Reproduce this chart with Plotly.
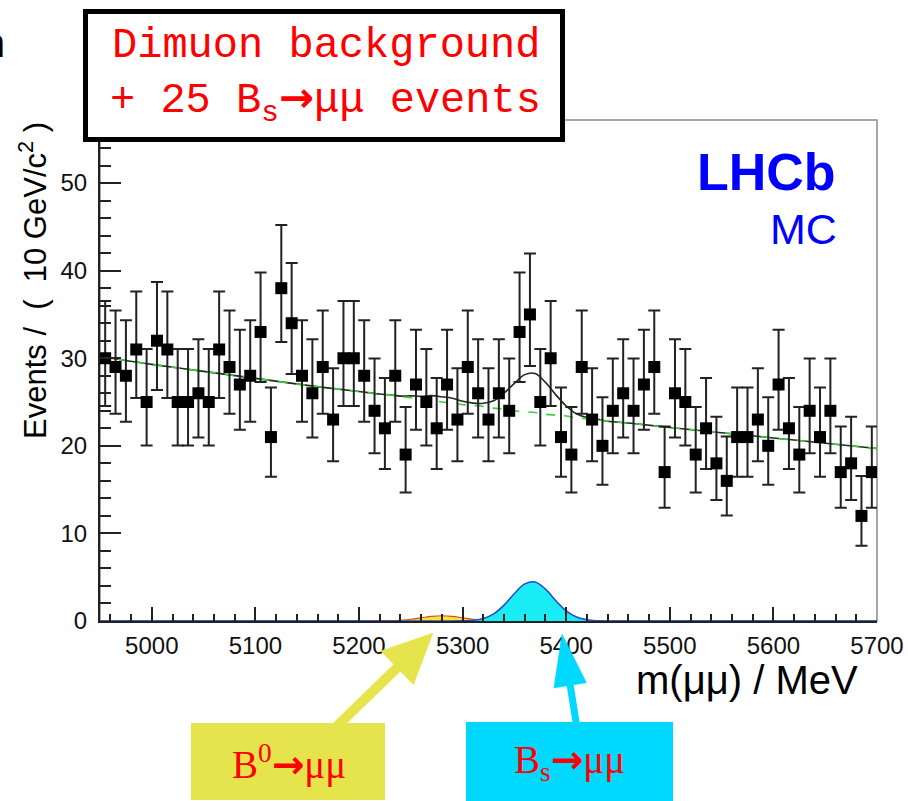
import numpy as np
import plotly.graph_objects as go

# ---------------- data ----------------
bin_centres = [4955, 4965, 4975, 4985, 4995, 5005, 5015, 5025, 5035, 5045,
               5055, 5065, 5075, 5085, 5095, 5105, 5115, 5125, 5135, 5145,
               5155, 5165, 5175, 5185, 5195, 5205, 5215, 5225, 5235, 5245,
               5255, 5265, 5275, 5285, 5295, 5305, 5315, 5325, 5335, 5345,
               5355, 5365, 5375, 5385, 5395, 5405, 5415, 5425, 5435, 5445,
               5455, 5465, 5475, 5485, 5495, 5505, 5515, 5525, 5535, 5545,
               5555, 5565, 5575, 5585, 5595, 5605, 5615, 5625, 5635, 5645,
               5655, 5665, 5675, 5685, 5695]
events = [30, 29, 28, 31, 25, 32, 31, 25, 25, 26,
          25, 31, 29, 27, 28, 33, 21, 38, 34, 28,
          26, 29, 23, 30, 30, 28, 24, 22, 28, 19,
          27, 25, 22, 27, 23, 29, 26, 23, 26, 24,
          33, 35, 25, 30, 21, 19, 29, 23, 20, 24,
          26, 24, 27, 29, 17, 26, 25, 19, 22, 18,
          16, 21, 21, 23, 20, 27, 22, 19, 24, 21,
          24, 17, 18, 12, 17]

curve_mass = [4950, 5000, 5050, 5100, 5150, 5200, 5220, 5230, 5240, 5250,
              5260, 5270, 5280, 5290, 5300, 5310, 5320, 5330, 5340, 5350,
              5360, 5370, 5380, 5390, 5400, 5410, 5420, 5430, 5440, 5460,
              5500, 5550, 5600, 5650, 5700]
background_curve = [30.2, 29.3, 28.5, 27.7, 26.9, 26.2, 25.9, 25.8, 25.6, 25.5,
                    25.3, 25.2, 25.0, 24.9, 24.7, 24.6, 24.5, 24.3, 24.2, 24.0,
                    23.9, 23.8, 23.6, 23.5, 23.4, 23.2, 23.1, 23.0, 22.8, 22.6,
                    22.1, 21.5, 20.9, 20.3, 19.7]
b0_curve = [0, 0, 0, 0, 0, 0, 0.01, 0.03, 0.08, 0.2,
            0.36, 0.53, 0.6, 0.53, 0.36, 0.2, 0.08, 0.03, 0.01, 0,
            0, 0, 0, 0, 0, 0, 0, 0, 0, 0,
            0, 0, 0, 0, 0]
bs_curve = [0, 0, 0, 0, 0, 0, 0, 0, 0, 0,
            0, 0, 0, 0, 0.02, 0.08, 0.28, 0.81, 1.81, 3.13,
            4.23, 4.45, 3.64, 2.32, 1.15, 0.45, 0.13, 0.03, 0.01, 0,
            0, 0, 0, 0, 0]

x_tick_values = [5000, 5100, 5200, 5300, 5400, 5500, 5600, 5700]
y_tick_values = [0, 10, 20, 30, 40, 50]

# ---------------- derived quantities ----------------
n = np.array(events, dtype=float)
# Poisson 68% interval (Wilson-Hilferty approximation of the Garwood interval)
lo = np.where(n > 0, n * (1 - 1 / (9 * n) - 1 / (3 * np.sqrt(n))) ** 3, 0.0)
hi = (n + 1) * (1 - 1 / (9 * (n + 1)) + 1 / (3 * np.sqrt(n + 1))) ** 3
err_plus = hi - n
err_minus = n - lo

total_curve = [b + s + z for b, s, z in zip(background_curve, bs_curve, b0_curve)]

# ---------------- figure ----------------
W, H = 908, 801
L, R, T, B = 100, 31, 120, 180
PW, PH = W - L - R, H - T - B


def px(xp):
    return (xp - L) / PW


def py(yp):
    return (H - B - yp) / PH


fig = go.Figure()

fig.add_trace(go.Scatter(x=curve_mass, y=b0_curve, mode="lines",
                         line=dict(color="#e04a1a", width=1.2, shape="spline"),
                         fill="tozeroy", fillcolor="#f2e63a", hoverinfo="skip",
                         showlegend=False))
fig.add_trace(go.Scatter(x=curve_mass, y=bs_curve, mode="lines",
                         line=dict(color="#1f4fc8", width=1.5, shape="spline"),
                         fill="tozeroy", fillcolor="#19ecf4", hoverinfo="skip",
                         showlegend=False))
fig.add_trace(go.Scatter(x=curve_mass, y=total_curve, mode="lines",
                         line=dict(color="#1a2e1a", width=1.6, shape="spline"),
                         hoverinfo="skip", showlegend=False))
fig.add_trace(go.Scatter(x=curve_mass, y=background_curve, mode="lines",
                         line=dict(color="#3fcf3f", width=1.6, dash="dash", shape="spline"),
                         hoverinfo="skip", showlegend=False))
fig.add_trace(go.Scatter(x=bin_centres, y=events, mode="markers",
                         marker=dict(symbol="square", size=12, color="black"),
                         error_y=dict(type="data", symmetric=False,
                                      array=err_plus, arrayminus=err_minus,
                                      color="#222222", thickness=2, width=6),
                         showlegend=False))

shapes = []
shapes.append(dict(type="rect", xref="paper", yref="paper", x0=0, x1=1, y0=0, y1=1,
                   line=dict(color="#8a8a8a", width=1.5), layer="below"))


def arrow(tip, tail, head_len, head_half, shaft_w, color):
    tx, ty = tip
    sx, sy = tail
    dx, dy = tx - sx, ty - sy
    ln = (dx * dx + dy * dy) ** 0.5
    ux, uy = dx / ln, dy / ln
    bx, by = tx - head_len * ux, ty - head_len * uy
    nx, ny = -uy, ux
    c1 = (bx + head_half * nx, by + head_half * ny)
    c2 = (bx - head_half * nx, by - head_half * ny)
    return [dict(type="line", xref="paper", yref="paper",
                 x0=px(sx), y0=py(sy), x1=px(bx + 2 * ux), y1=py(by + 2 * uy),
                 line=dict(color=color, width=shaft_w)),
            dict(type="path", xref="paper", yref="paper",
                 path="M {} {} L {} {} L {} {} Z".format(px(tx), py(ty), px(c1[0]), py(c1[1]),
                                                       px(c2[0]), py(c2[1])),
                 fillcolor=color, line=dict(color=color, width=0.5))]


yellow = "#e6e44c"
cyan = "#00d9ff"
shapes += arrow((433, 633), (335, 728), 50, 23.5, 10, yellow)
shapes += arrow((562, 634), (577, 728), 52, 16.5, 7, cyan)

shapes.append(dict(type="rect", xref="paper", yref="paper",
                   x0=px(191), x1=px(385), y0=py(800), y1=py(723),
                   fillcolor=yellow, line=dict(width=0)))
shapes.append(dict(type="rect", xref="paper", yref="paper",
                   x0=px(466), x1=px(673), y0=py(801), y1=py(722),
                   fillcolor=cyan, line=dict(width=0)))
shapes.append(dict(type="rect", xref="paper", yref="paper",
                   x0=px(85.5), x1=px(562.5), y0=py(139.5), y1=py(11.5),
                   fillcolor="white", line=dict(color="black", width=5)))

ARROW = "<span style='font-family:DejaVu Sans'><b>→</b></span>"

annotations = []
mono = "Liberation Mono, Courier New, monospace"
annotations.append(dict(x=px(325.5), y=py(46), xref="paper", yref="paper",
                        text="Dimuon background", showarrow=False,
                        font=dict(family=mono, size=42, color="#ff0000"),
                        xanchor="center", yanchor="middle"))
annotations.append(dict(x=px(325.5), y=py(101), xref="paper", yref="paper",
                        text="+ 25 B<sub>s</sub>" + ARROW + "μμ events", showarrow=False,
                        font=dict(family=mono, size=42, color="#ff0000"),
                        xanchor="center", yanchor="middle"))
annotations.append(dict(x=px(8), y=py(46), xref="paper", yref="paper",
                        text="n", showarrow=False,
                        font=dict(family=mono, size=40, color="black"),
                        xanchor="right", yanchor="middle"))
annotations.append(dict(x=px(838), y=py(172), xref="paper", yref="paper",
                        text="<b>LHCb</b>", showarrow=False,
                        font=dict(family="Liberation Sans, Arial", size=52, color="#0000ff"),
                        xanchor="right", yanchor="middle"))
annotations.append(dict(x=px(839), y=py(229), xref="paper", yref="paper",
                        text="MC", showarrow=False,
                        font=dict(family="Liberation Sans, Arial", size=43, color="#0000ff"),
                        xanchor="right", yanchor="middle"))
annotations.append(dict(x=px(33), y=py(281), xref="paper", yref="paper",
                        text="Events /  (  10 GeV/c<sup>2</sup> )", showarrow=False,
                        textangle=-90,
                        font=dict(family="Liberation Sans, Arial", size=31, color="black"),
                        xanchor="center", yanchor="middle"))
annotations.append(dict(x=px(860), y=py(680), xref="paper", yref="paper",
                        text="m(μμ) / MeV", showarrow=False,
                        font=dict(family="Liberation Sans, Arial", size=40, color="black"),
                        xanchor="right", yanchor="middle"))
serif = "Liberation Serif, Times New Roman, serif"
annotations.append(dict(x=px(289), y=py(762), xref="paper", yref="paper",
                        text="B<sup>0</sup>" + ARROW + "μμ", showarrow=False,
                        font=dict(family=serif, size=39, color="#ff0000"),
                        xanchor="center", yanchor="middle"))
annotations.append(dict(x=px(569), y=py(762), xref="paper", yref="paper",
                        text="B<sub>s</sub>" + ARROW + "μμ", showarrow=False,
                        font=dict(family=serif, size=39, color="#ff0000"),
                        xanchor="center", yanchor="middle"))

fig.update_layout(
    width=W, height=H,
    margin=dict(l=L, r=R, t=T, b=B, pad=0, autoexpand=False),
    paper_bgcolor="white", plot_bgcolor="white",
    shapes=shapes, annotations=annotations,
    showlegend=False,
    font=dict(family="Liberation Sans, Arial", color="#111111"),
)
fig.update_xaxes(range=[4950, 5700], showgrid=False, zeroline=False,
                 showline=True, linecolor="#222222", linewidth=2,
                 ticks="inside", ticklen=14, tickwidth=1.5, tickcolor="#222222",
                 tickvals=x_tick_values, ticktext=[str(v) for v in x_tick_values],
                 tickfont=dict(size=24, color="#111111"),
                 minor=dict(ticks="inside", ticklen=7, tickwidth=1.5, dtick=20,
                            tick0=4960, tickcolor="#222222", showgrid=False),
                 ticklabelstandoff=2, automargin=False)
fig.update_yaxes(range=[0, 57.2], showgrid=False, zeroline=False,
                 showline=True, linecolor="#222222", linewidth=2,
                 ticks="inside", ticklen=21, tickwidth=1.5, tickcolor="#222222",
                 tickvals=y_tick_values, ticktext=[str(v) for v in y_tick_values],
                 tickfont=dict(size=24, color="#111111"),
                 minor=dict(ticks="inside", ticklen=11, tickwidth=1.5, dtick=2,
                            tick0=0, tickcolor="#222222", showgrid=False),
                 ticklabelstandoff=6, automargin=False)

fig.write_html("out.html")
